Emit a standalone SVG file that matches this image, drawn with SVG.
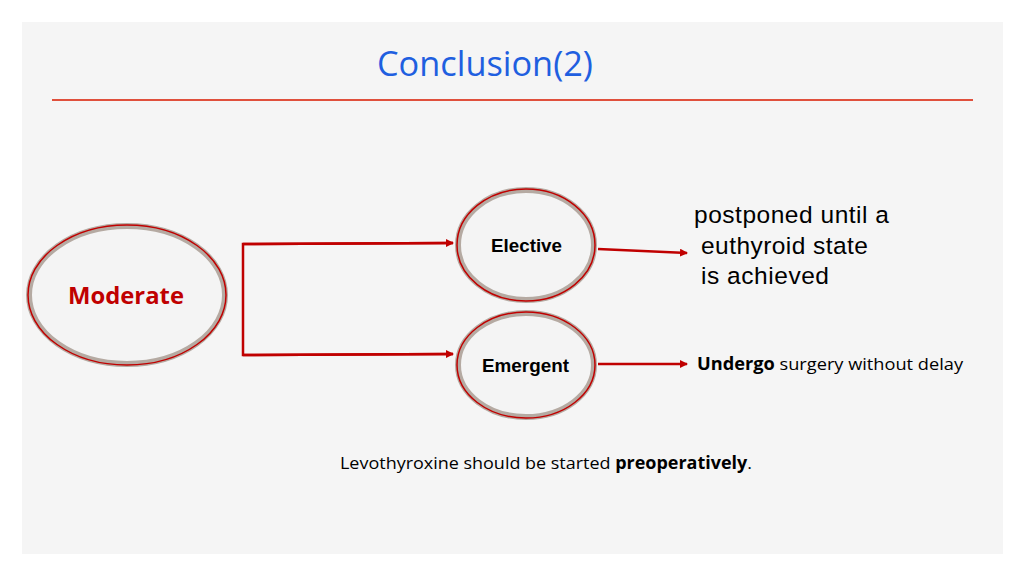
<svg xmlns="http://www.w3.org/2000/svg" width="1024" height="576" viewBox="0 0 1024 576">
<defs>
<style>
.ring{fill:#f4f4f4;stroke:#b5aaa2;stroke-width:6}
.inner{fill:none;stroke:#c00000;stroke-width:1.5}
.conn{fill:none;stroke:#c00000;stroke-width:2.5}
.lbl{font-family:"Liberation Sans",Arial,sans-serif;font-weight:bold;font-size:18px}
.txt{font-family:"Open Sans","Noto Sans",sans-serif;font-size:17px}
</style>
<marker id="ah" markerWidth="8" markerHeight="8" refX="7" refY="4" orient="auto" markerUnits="userSpaceOnUse"><path d="M0,0 L8,4 L0,8 z" fill="#c00000"/></marker>
</defs>
<rect width="1024" height="576" fill="#ffffff"/>
<rect x="22" y="22" width="981" height="532" fill="#f5f5f5"/>
<text x="377" y="76" font-family="Open Sans,Noto Sans,sans-serif" font-size="35" fill="#1f5fe0" textLength="216" lengthAdjust="spacingAndGlyphs">Conclusion(2)</text>
<line x1="52" y1="100" x2="973" y2="100" stroke="#e0503c" stroke-width="2"/>
<g id="connectors">
<polyline class="conn" points="453,243 243,244 243,355 453,354"/>
<line class="conn" x1="243" y1="244" x2="453" y2="243" marker-end="url(#ah)"/>
<line class="conn" x1="243" y1="355" x2="453" y2="354" marker-end="url(#ah)"/>
<line class="conn" x1="598" y1="249" x2="687" y2="253" marker-end="url(#ah)"/>
<line class="conn" x1="598" y1="364" x2="687" y2="364" marker-end="url(#ah)"/>
</g>
<g id="moderate">
<ellipse class="ring" cx="127" cy="295" rx="98" ry="69"/>
<ellipse class="inner" cx="127" cy="295" rx="99" ry="70"/>
<text x="68" y="304" font-family="Open Sans,Noto Sans,sans-serif" font-weight="bold" font-size="23" fill="#c00000" textLength="116" lengthAdjust="spacingAndGlyphs">Moderate</text>
</g>
<g id="elective">
<ellipse class="ring" cx="526" cy="245" rx="68" ry="55"/>
<ellipse class="inner" cx="526" cy="245" rx="69" ry="56"/>
<text class="lbl" x="491" y="252" textLength="71" lengthAdjust="spacingAndGlyphs">Elective</text>
</g>
<g id="emergent">
<ellipse class="ring" cx="526" cy="365" rx="68" ry="52"/>
<ellipse class="inner" cx="526" cy="365" rx="69" ry="53"/>
<text class="lbl" x="482" y="372" textLength="87" lengthAdjust="spacingAndGlyphs">Emergent</text>
</g>
<g id="notes" font-family="Liberation Sans,Arial,sans-serif" font-size="24.5">
<text x="694" y="223" textLength="195">postponed until a</text>
<text x="701" y="254" textLength="167">euthyroid state</text>
<text x="701" y="284" textLength="128">is achieved</text>
</g>
<text class="txt" x="697" y="370" textLength="266" lengthAdjust="spacingAndGlyphs"><tspan font-weight="bold">Undergo</tspan> surgery without delay</text>
<text class="txt" x="340" y="469" textLength="412" lengthAdjust="spacingAndGlyphs">Levothyroxine should be started <tspan font-weight="bold">preoperatively</tspan>.</text>
</svg>
